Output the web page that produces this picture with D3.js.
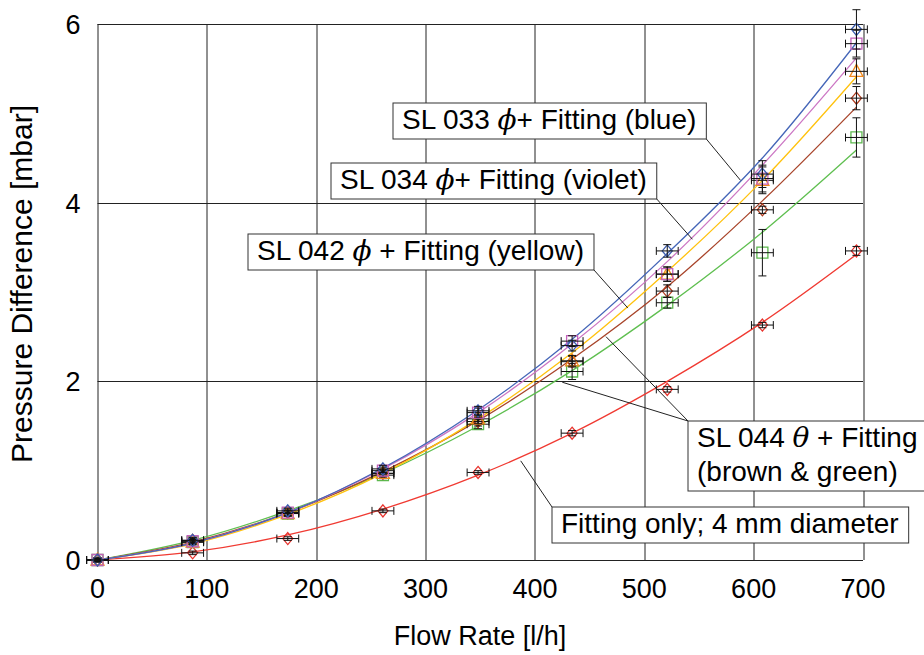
<!DOCTYPE html>
<html>
<head>
<meta charset="utf-8">
<script src="https://cdn.jsdelivr.net/npm/d3@7"></script>
<style>
  body { margin: 0; background: #fff; }
  svg text { font-family: "Liberation Sans", Arial, sans-serif; fill: #000; }
</style>
</head>
<body>
<svg id="chart" width="924" height="655"></svg>
<script>
// flow rates of the measured points [l/h]
const flowRates = [0, 87, 174, 261, 348, 434, 521, 608, 694];
const flowErr = 10;

// measured pressure differences [mbar]
const sl033 = [0, 0.22, 0.55, 1.02, 1.67, 2.40, 3.46, 4.32, 5.94];
const sl034 = [0, 0.21, 0.53, 1.00, 1.65, 2.45, 3.20, 4.27, 5.78];
const sl042 = [0, 0.20, 0.52, 0.97, 1.58, 2.23, 3.20, 4.25, 5.47];
const sl044b = [0, 0.22, 0.53, 0.97, 1.55, 2.22, 3.01, 3.92, 5.17];
const sl044g = [0, 0.20, 0.52, 0.95, 1.52, 2.11, 2.88, 3.44, 4.73];
const fittingOnly = [0, 0.08, 0.24, 0.55, 0.98, 1.42, 1.91, 2.63, 3.46];

// vertical error bars [mbar]
const sl033Err = [0.02, 0.03, 0.03, 0.04, 0.05, 0.06, 0.07, 0.15, 0.22];
const sl034Err = [0.02, 0.03, 0.03, 0.04, 0.05, 0.06, 0.08, 0.15, 0.15];
const sl042Err = [0.02, 0.03, 0.03, 0.04, 0.05, 0.06, 0.08, 0.15, 0.14];
const sl044bErr = [0.02, 0.03, 0.03, 0.04, 0.05, 0.06, 0.07, 0.04, 0.13];
const sl044gErr = [0.02, 0.03, 0.03, 0.04, 0.05, 0.09, 0.06, 0.26, 0.22];
const fittingOnlyErr = [0.02, 0.02, 0.02, 0.02, 0.02, 0.03, 0.03, 0.03, 0.05];

const sl033Fit = [0, 0.19, 0.53, 1.03, 1.68, 2.47, 3.43, 4.50, 5.79];
const sl034Fit = [0, 0.19, 0.53, 1.02, 1.65, 2.42, 3.34, 4.42, 5.62];
const sl042Fit = [0, 0.18, 0.51, 0.97, 1.58, 2.32, 3.23, 4.25, 5.41];
const sl044bFit = [0, 0.20, 0.53, 0.99, 1.56, 2.25, 3.06, 4.02, 5.07];
const sl044gFit = [0, 0.22, 0.55, 0.97, 1.50, 2.12, 2.85, 3.67, 4.59];
const fittingOnlyFit = [0, 0.09, 0.28, 0.57, 0.95, 1.42, 2.00, 2.66, 3.42];

const xTicks = [0, 100, 200, 300, 400, 500, 600, 700];
const yTicks = [0, 2, 4, 6];

const series = [
    { name: "fitting only", values: fittingOnly, err: fittingOnlyErr, fit: fittingOnlyFit, line: "#f03a32", marker: "#e8322c", shape: "diamond" },
    { name: "SL 044 green", values: sl044g, err: sl044gErr, fit: sl044gFit, line: "#5fbf50", marker: "#5cb84e", shape: "square" },
    { name: "SL 044 brown", values: sl044b, err: sl044bErr, fit: sl044bFit, line: "#a8442a", marker: "#b23c1e", shape: "diamond" },
    { name: "SL 042", values: sl042, err: sl042Err, fit: sl042Fit, line: "#ffc20e", marker: "#f28a1e", shape: "triangle" },
    { name: "SL 034", values: sl034, err: sl034Err, fit: sl034Fit, line: "#cc77c4", marker: "#c462bc", shape: "square" },
    { name: "SL 033", values: sl033, err: sl033Err, fit: sl033Fit, line: "#4566b8", marker: "#3a5cb0", shape: "diamond" }
];

// annotation boxes: left edge, baseline of first line, and where the leader line goes (data units)
const notes = [
    { lines: [["SL 033 ", "ϕ", "+ Fitting (blue)"]], left: 393, base: 129, corner: "br", to: [[588, 4.25]] },
    { lines: [["SL 034 ", "ϕ", "+ Fitting (violet)"]], left: 331, base: 189, corner: "br", to: [[544, 3.59]] },
    { lines: [["SL 042 ", "ϕ", " + Fitting (yellow)"]], left: 248, base: 260, corner: "br", to: [[485, 2.82]] },
    { lines: [["SL 044 ", "θ", " + Fitting"], ["(brown & green)", "", ""]], left: 688, base: 447, corner: "tl", to: [[465, 2.50], [425, 1.99]] },
    { lines: [["Fitting only; 4 mm diameter", "", ""]], left: 552, base: 533, corner: "tl", to: [[387, 1.11]] }
];

const margin = { top: 24, right: 61, bottom: 95, left: 97.5 },
      width = 924 - margin.left - margin.right,
      height = 655 - margin.top - margin.bottom;

const svg = d3.select("#chart");
const g = svg.append("g")
    .attr("transform", `translate(${margin.left},${margin.top})`);

const x = d3.scaleLinear().domain([0, 700]).range([0, width]);
const y = d3.scaleLinear().domain([0, 6]).range([height, 0]);

// grid
g.append("g").selectAll("line").data(xTicks).join("line")
    .attr("x1", d => Math.round(x(d)) + 0.5).attr("x2", d => Math.round(x(d)) + 0.5)
    .attr("y1", 0).attr("y2", height)
    .attr("stroke", "#222").attr("stroke-width", 1);
g.append("g").selectAll("line").data(yTicks).join("line")
    .attr("x1", 0).attr("x2", width)
    .attr("y1", d => Math.round(y(d)) + 0.5).attr("y2", d => Math.round(y(d)) + 0.5)
    .attr("stroke", "#222").attr("stroke-width", 1);

// tick labels
g.append("g").selectAll("text").data(xTicks).join("text")
    .attr("x", d => x(d)).attr("y", height + 38)
    .attr("text-anchor", "middle")
    .style("font-size", "27px")
    .text(d => d);
g.append("g").selectAll("text").data(yTicks).join("text")
    .attr("x", -17).attr("y", d => y(d) + 10)
    .attr("text-anchor", "end")
    .style("font-size", "27px")
    .text(d => d);

// axis titles
svg.append("text")
    .attr("x", 480).attr("y", 645)
    .attr("text-anchor", "middle")
    .style("font-size", "27px")
    .text("Flow Rate [l/h]");
svg.append("text")
    .attr("transform", "translate(32,284) rotate(-90)")
    .attr("text-anchor", "middle")
    .style("font-size", "30px")
    .text("Pressure Difference [mbar]");

// fitted curves
const fitLine = d3.line()
    .x((d, i) => x(flowRates[i]))
    .y(d => y(d))
    .curve(d3.curveCatmullRom);

g.append("g").selectAll("path").data(series).join("path")
    .attr("d", s => fitLine(s.fit))
    .attr("fill", "none")
    .attr("stroke", s => s.line)
    .attr("stroke-width", 1.3);

// markers with error bars
const shapes = {
    diamond: "M0,-6L5,0L0,6L-5,0Z",
    square: "M-5.5,-5.5H5.5V5.5H-5.5Z",
    triangle: "M0,-7L6.5,5H-6.5Z"
};

series.forEach(s => {
    const pts = s.values.map((v, i) => ({ fx: flowRates[i], v: v, e: s.err[i] }));
    const pg = g.append("g");

    pg.selectAll("path.marker").data(pts).join("path")
        .attr("class", "marker")
        .attr("transform", d => `translate(${x(d.fx)},${y(d.v)})`)
        .attr("d", shapes[s.shape])
        .attr("fill", "none")
        .attr("stroke", s.marker)
        .attr("stroke-width", 1.3);

    const eb = pg.selectAll("g.err").data(pts).join("g").attr("class", "err")
        .attr("stroke", "#111").attr("stroke-width", 1).attr("fill", "none");
    // horizontal
    eb.append("line")
        .attr("x1", d => x(d.fx - flowErr)).attr("x2", d => x(d.fx + flowErr))
        .attr("y1", d => y(d.v)).attr("y2", d => y(d.v));
    eb.append("line")
        .attr("x1", d => x(d.fx - flowErr)).attr("x2", d => x(d.fx - flowErr))
        .attr("y1", d => y(d.v) - 4).attr("y2", d => y(d.v) + 4);
    eb.append("line")
        .attr("x1", d => x(d.fx + flowErr)).attr("x2", d => x(d.fx + flowErr))
        .attr("y1", d => y(d.v) - 4).attr("y2", d => y(d.v) + 4);
    // vertical
    eb.append("line")
        .attr("x1", d => x(d.fx)).attr("x2", d => x(d.fx))
        .attr("y1", d => y(d.v - d.e)).attr("y2", d => y(d.v + d.e));
    eb.append("line")
        .attr("x1", d => x(d.fx) - 4).attr("x2", d => x(d.fx) + 4)
        .attr("y1", d => y(d.v - d.e)).attr("y2", d => y(d.v - d.e));
    eb.append("line")
        .attr("x1", d => x(d.fx) - 4).attr("x2", d => x(d.fx) + 4)
        .attr("y1", d => y(d.v + d.e)).attr("y2", d => y(d.v + d.e));
});

// annotations
const lineGap = 34;
notes.forEach(n => {
    const ng = svg.append("g");
    const rect = ng.append("rect");
    const texts = n.lines.map((parts, li) => {
        const t = ng.append("text")
            .attr("x", n.left + 9)
            .attr("y", n.base + li * lineGap)
            .style("font-size", "28px");
        t.append("tspan").text(parts[0]);
        if (parts[1]) {
            t.append("tspan").text(parts[1])
                .style("font-family", "'DejaVu Serif', 'Liberation Serif', serif")
                .style("font-style", "italic");
            t.append("tspan").text(parts[2]);
        }
        return t;
    });
    const right = d3.max(texts, t => t.node().getBBox().x + t.node().getBBox().width) + 10;
    const top = n.base - 26;
    const bottom = n.base + (n.lines.length - 1) * lineGap + 10;
    rect.attr("x", n.left).attr("y", top)
        .attr("width", right - n.left).attr("height", bottom - top)
        .attr("fill", "#fff").attr("stroke", "#333").attr("stroke-width", 1);

    const cx = n.corner === "br" ? right : n.left;
    const cy = n.corner === "br" ? bottom : top;
    n.to.forEach(p => {
        svg.insert("line", ":first-child")
            .attr("x1", cx).attr("y1", cy)
            .attr("x2", margin.left + x(p[0])).attr("y2", margin.top + y(p[1]))
            .attr("stroke", "#222").attr("stroke-width", 1);
    });
});
// keep leaders above grid but under boxes
svg.selectAll("line").filter(function() { return this.parentNode === svg.node(); }).raise();
svg.selectAll("svg > g").filter(function() { return this !== g.node(); }).raise();
</script>
</body>
</html>
